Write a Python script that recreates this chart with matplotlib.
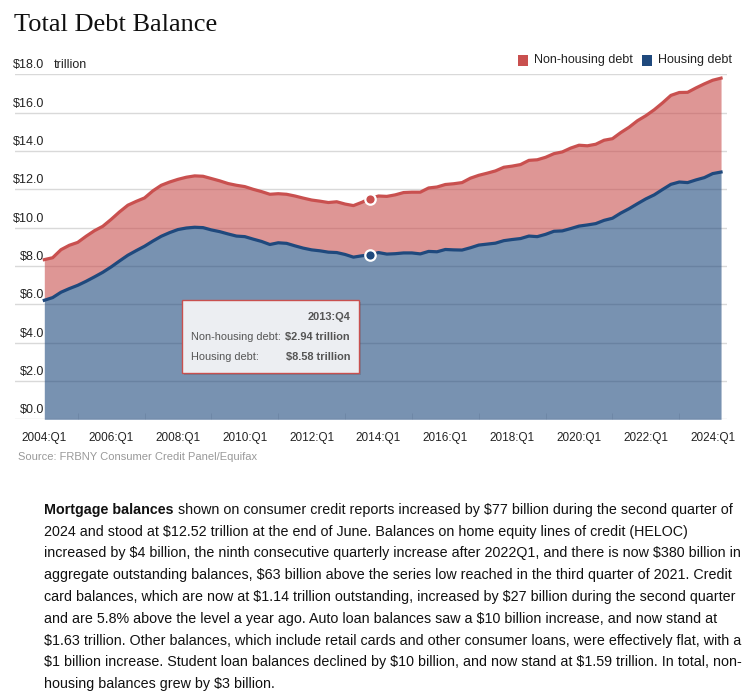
import matplotlib
matplotlib.use("Agg")
import matplotlib.pyplot as plt
from matplotlib import font_manager
from matplotlib.patches import Rectangle
import numpy as np

# ---------------- data ----------------
quarters = [f"{y}:Q{q}" for y in range(2004, 2025) for q in range(1, 5)][:82]

housing = [
    6.21, 6.35, 6.63, 6.82,
    6.99, 7.20, 7.43, 7.67,
    7.95, 8.26, 8.56, 8.80,
    9.03, 9.30, 9.55, 9.74,
    9.90, 9.98, 10.02, 10.00,
    9.88, 9.79, 9.67, 9.56,
    9.53, 9.40, 9.28, 9.12,
    9.21, 9.18, 9.05, 8.93,
    8.84, 8.79, 8.72, 8.70,
    8.60, 8.46, 8.53, 8.58,
    8.70, 8.62, 8.64, 8.68,
    8.68, 8.63, 8.76, 8.74,
    8.86, 8.84, 8.83, 8.95,
    9.09, 9.14, 9.19, 9.32,
    9.38, 9.43, 9.56, 9.53,
    9.65, 9.81, 9.83, 9.95,
    10.08, 10.14, 10.21, 10.38,
    10.49, 10.76, 10.99, 11.25,
    11.50, 11.71, 11.99, 12.26,
    12.38, 12.35, 12.49, 12.61,
    12.82, 12.90,
]

nonhousing = [
    2.12, 2.08, 2.22, 2.26,
    2.24, 2.35, 2.41, 2.40,
    2.48, 2.56, 2.61, 2.57,
    2.52, 2.62, 2.66, 2.64,
    2.62, 2.65, 2.68, 2.68,
    2.68, 2.65, 2.63, 2.65,
    2.61, 2.60, 2.60, 2.62,
    2.56, 2.56, 2.60, 2.61,
    2.60, 2.59, 2.59, 2.65,
    2.63, 2.69, 2.79, 2.94,
    2.95, 3.01, 3.07, 3.15,
    3.17, 3.22, 3.31, 3.38,
    3.39, 3.45, 3.52, 3.63,
    3.64, 3.70, 3.77, 3.83,
    3.83, 3.86, 3.95, 4.01,
    4.02, 4.05, 4.12, 4.20,
    4.22, 4.13, 4.14, 4.18,
    4.15, 4.20, 4.25, 4.33,
    4.34, 4.44, 4.52, 4.64,
    4.67, 4.71, 4.80, 4.89,
    4.87, 4.90,
]

ytick_values = [0, 2, 4, 6, 8, 10, 12, 14, 16, 18]
xtick_labels = ["2004:Q1", "2006:Q1", "2008:Q1", "2010:Q1", "2012:Q1", "2014:Q1",
                "2016:Q1", "2018:Q1", "2020:Q1", "2022:Q1", "2024:Q1"]
highlight = "2013:Q4"

title = "Total Debt Balance"
source = "Source: FRBNY Consumer Credit Panel/Equifax"
para_bold = "Mortgage balances"
para_lines = [
    " shown on consumer credit reports increased by $77 billion during the second quarter of",
    "2024 and stood at $12.52 trillion at the end of June. Balances on home equity lines of credit (HELOC)",
    "increased by $4 billion, the ninth consecutive quarterly increase after 2022Q1, and there is now $380 billion in",
    "aggregate outstanding balances, $63 billion above the series low reached in the third quarter of 2021. Credit",
    "card balances, which are now at $1.14 trillion outstanding, increased by $27 billion during the second quarter",
    "and are 5.8% above the level a year ago. Auto loan balances saw a $10 billion increase, and now stand at",
    "$1.63 trillion. Other balances, which include retail cards and other consumer loans, were effectively flat, with a",
    "$1 billion increase. Student loan balances declined by $10 billion, and now stand at $1.59 trillion. In total, non-",
    "housing balances grew by $3 billion.",
]

# ---------------- style ----------------
names = {f.name for f in font_manager.fontManager.ttflist}
sans = "Liberation Sans" if "Liberation Sans" in names else "DejaVu Sans"
narrow = "Liberation Sans Narrow" if "Liberation Sans Narrow" in names else sans
serif = "Liberation Serif" if "Liberation Serif" in names else "DejaVu Serif"
plt.rcParams["font.family"] = [sans, "DejaVu Sans"]

RED = "#c9504f"
BLUE = "#1f497d"

W, H = 745, 697
fig = plt.figure(figsize=(W / 100, H / 100), dpi=100)

def fx(px):
    return px / W

def fy(py):
    return 1 - py / H

ax_left, ax_right, ax_top, ax_bot = 15, 727, 74.3, 419.3
ax = fig.add_axes([fx(ax_left), fy(ax_bot), fx(ax_right - ax_left), (ax_bot - ax_top) / H])

x = np.arange(len(housing))
h = np.array(housing)
n = np.array(nonhousing)
tot = h + n

px_per_q = 8.355
x0_px = 44.3
ax.set_xlim((ax_left - x0_px) / px_per_q, (ax_right - x0_px) / px_per_q)
ax.set_ylim(0, 18)

for v in ytick_values:
    ax.axhline(v, color="#d9d9d9", lw=1.0, zorder=0)
    ax.text(-0.05, v + 0.15, f"${v:.1f}", ha="right", va="bottom", fontsize=9,
            color="#222222", parse_math=False, zorder=6)
ax.text(1.15, 18 + 0.15, "trillion", ha="left", va="bottom", fontsize=9, color="#222222", zorder=6)

ax.fill_between(x, 0, h, color=BLUE, alpha=0.6, lw=0, zorder=2)
ax.fill_between(x, h, tot, color=RED, alpha=0.6, lw=0, zorder=2)
ax.plot(x, h, color=BLUE, lw=2.3, zorder=3, solid_joinstyle="round")
ax.plot(x, tot, color=RED, lw=2.3, zorder=3, solid_joinstyle="round")

hi = quarters.index(highlight)
ax.plot([hi], [tot[hi]], marker="o", ms=7.5, mfc=RED, mec="white", mew=1.6, zorder=5)
ax.plot([hi], [h[hi]], marker="o", ms=7.5, mfc=BLUE, mec="white", mew=1.6, zorder=5)

for s in ax.spines.values():
    s.set_visible(False)
ax.set_yticks([])
xt = [quarters.index(l) for l in xtick_labels]
ax.set_xticks(xt)
ax.set_xticklabels(xtick_labels, fontsize=8.5, family=narrow, color="#222222")
ax.tick_params(axis="x", length=0, pad=9)
ax.set_xticks([i for i in range(0, 82, 4)], minor=True)
ax.tick_params(axis="x", which="minor", length=4, color="#e0e0e0", direction="in")

# tooltip
tb_l, tb_t, tb_r, tb_b = 182, 300, 359, 373
shadow = Rectangle((fx(tb_l + 2), fy(tb_b + 2)), fx(tb_r - tb_l), (tb_b - tb_t) / H,
                   transform=fig.transFigure, facecolor="black", alpha=0.12, lw=0, zorder=7)
fig.add_artist(shadow)
box = Rectangle((fx(tb_l), fy(tb_b)), fx(tb_r - tb_l), (tb_b - tb_t) / H,
                transform=fig.transFigure, facecolor="#eceef2", edgecolor=RED, lw=1.0, zorder=8)
fig.add_artist(box)
tcol = "#555555"
tfs = 7.9
fig.text(fx(350), fy(317), highlight, ha="right", va="center", fontsize=tfs,
         fontweight="bold", color=tcol, zorder=9)
fig.text(fx(191), fy(337), "Non-housing debt:", ha="left", va="center", fontsize=tfs, color=tcol, zorder=9)
fig.text(fx(350), fy(337), f"${n[hi]:.2f} trillion", ha="right", va="center", fontsize=tfs,
         fontweight="bold", color=tcol, zorder=9, parse_math=False)
fig.text(fx(191), fy(357), "Housing debt:", ha="left", va="center", fontsize=tfs, color=tcol, zorder=9)
fig.text(fx(350), fy(357), f"${h[hi]:.2f} trillion", ha="right", va="center", fontsize=tfs,
         fontweight="bold", color=tcol, zorder=9, parse_math=False)

# legend
fig.add_artist(Rectangle((fx(518), fy(65.5)), fx(10), 10 / H, transform=fig.transFigure,
                         facecolor=RED, lw=0))
fig.text(fx(534), fy(60.5), "Non-housing debt", ha="left", va="center", fontsize=9, color="#222222")
fig.add_artist(Rectangle((fx(642), fy(65.5)), fx(10), 10 / H, transform=fig.transFigure,
                         facecolor=BLUE, lw=0))
fig.text(fx(658), fy(60.5), "Housing debt", ha="left", va="center", fontsize=9, color="#222222")

# title & source
fig.text(fx(14), fy(25), title, ha="left", va="center", fontsize=19, family=serif, color="#111111")
fig.text(fx(18), fy(457), source, ha="left", va="center", fontsize=8, family=narrow, color="#999999")

# paragraph
fig.canvas.draw()
renderer = fig.canvas.get_renderer()
line_y0, line_dy = 510, 21.75
pfs = 10.3
bt = fig.text(fx(44), fy(line_y0), para_bold, ha="left", va="center", fontsize=pfs,
              fontweight="bold", color="#111111")
bb = bt.get_window_extent(renderer)
fig.text(bb.x1 / W, fy(line_y0), para_lines[0], ha="left", va="center", fontsize=pfs,
         color="#111111", parse_math=False)
for k, line in enumerate(para_lines[1:], start=1):
    fig.text(fx(44), fy(line_y0 + k * line_dy), line, ha="left", va="center", fontsize=pfs,
             color="#111111", parse_math=False)

fig.savefig("out.png", dpi=100)
